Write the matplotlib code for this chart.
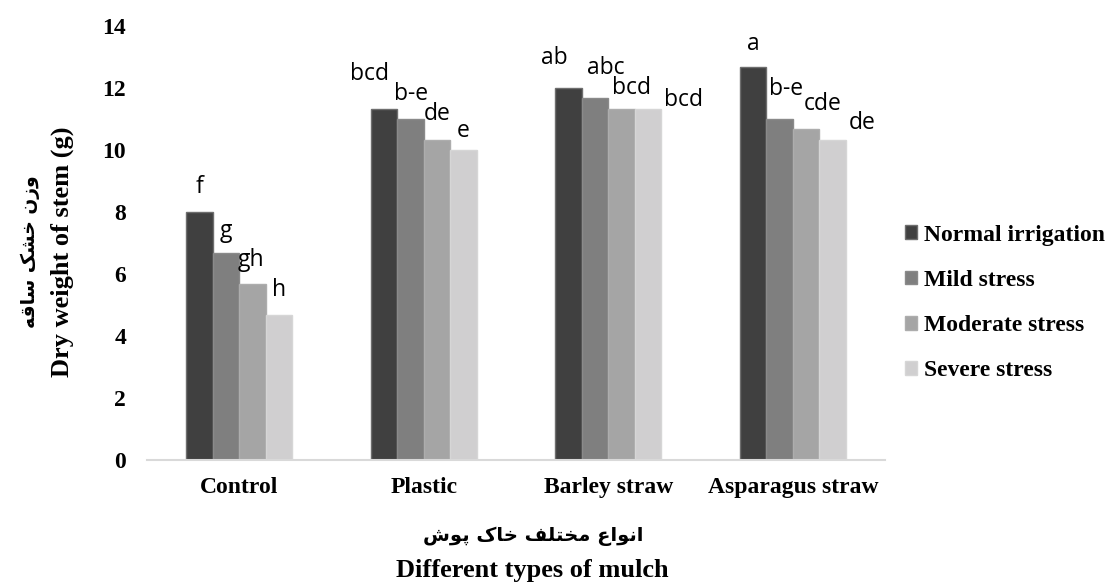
import matplotlib
matplotlib.use("Agg")
import matplotlib.pyplot as plt
import numpy as np

# ---------------- data ----------------
categories = ["Control", "Plastic", "Barley straw", "Asparagus straw"]
series_names = ["Normal irrigation", "Mild stress", "Moderate stress", "Severe stress"]
normal = [8.0, 11.33, 12.0, 12.67]
mild = [6.67, 11.0, 11.67, 11.0]
moderate = [5.67, 10.33, 11.33, 10.67]
severe = [4.67, 10.0, 11.33, 10.33]
letters_normal = ["f", "bcd", "ab", "a"]
letters_mild = ["g", "b-e", "abc", "b-e"]
letters_moderate = ["gh", "de", "bcd", "cde"]
letters_severe = ["h", "e", "bcd", "de"]
yticks = [0, 2, 4, 6, 8, 10, 12, 14]

# label placement (layout only): offsets in pixels from bar centre, and in data units above bar top
label_dx_px = [[0, -14, -14, 0], [0, 1, 11, 7], [-2, 0, 10, 17], [0, 0, 35, 30]]
label_dy = [[0.82, 1.11, 0.96, 0.75], [0.72, 0.8, 0.97, 0.96],
            [0.79, 0.82, 0.66, 0.8], [0.82, 0.6, 0.27, 0.53]]

colors = ["#404040", "#7f7f7f", "#a5a5a5", "#d0cfd0"]
edges = ["#6e6e6e", "#8a8a8a", "#adadad", "#d6d6d6"]

W, H = 1107, 583
fig = plt.figure(figsize=(W / 100, H / 100), dpi=100)
ax = fig.add_axes([147 / W, 1 - 460 / H, (885 - 147) / W, (460 - 26) / H])

serif = ["Liberation Serif", "DejaVu Serif"]
values = [normal, mild, moderate, severe]
letters = [letters_normal, letters_mild, letters_moderate, letters_severe]
x = np.arange(len(categories))
bw = 26.5 / 184.5
px_per_unit = 184.5

for i, (vals, name) in enumerate(zip(values, series_names)):
    pos = x + (i - 1.5) * bw
    ax.bar(pos, vals, width=bw, color=colors[i], edgecolor=edges[i], linewidth=1.0,
           label=name, zorder=2)
    for j, (p, v) in enumerate(zip(pos, vals)):
        ax.text(p + label_dx_px[i][j] / px_per_unit, v + label_dy[i][j], letters[i][j],
                ha="center", va="center", fontsize=16.5, family=["Open Sans", "DejaVu Sans"],
                color="#000000")

ax.set_xlim(-0.5, 3.5)
ax.set_ylim(0, 14)
ax.set_yticks(yticks)
ax.set_yticklabels([str(t) for t in yticks], fontsize=17, fontweight="bold", family=serif)
ax.set_xticks(x)
ax.set_xticklabels(categories, fontsize=17, fontweight="bold", family=serif)
ax.tick_params(axis="both", length=0)
ax.tick_params(axis="y", pad=15)
ax.tick_params(axis="x", pad=12)
for s in ["top", "right", "left"]:
    ax.spines[s].set_visible(False)
ax.spines["bottom"].set_color("#d9d9d9")
ax.spines["bottom"].set_linewidth(1.5)

# Persian text in presentation forms (visual order)
fa_y = "\uFEEA\uFED7\uFE8E\uFEB3 \uFB8F\uFEB8\uFEA7 \uFEE5\uFEAF\uFEED"
fa_x = ("\uFEB5\uFEEE\uFB58 \uFB8E\uFE8E\uFEA7 \uFED2\uFEE0\uFE98\uFEA8\uFEE3 "
        "\uFEC9\uFE8D\uFEEE\uFEE7\uFE8D")

fig.text(30 / W, 1 - 252 / H, fa_y, rotation=90, ha="center", va="center",
         fontsize=13.5, fontweight="bold", family=["DejaVu Sans"])
fig.text(62 / W, 1 - 252 / H, "Dry weight of stem (g)", rotation=90, ha="center", va="center",
         fontsize=19, fontweight="bold", family=serif)
fig.text(533 / W, 1 - 536 / H, fa_x, ha="center", va="center",
         fontsize=14, fontweight="bold", family=["DejaVu Sans"])
fig.text(532 / W, 1 - 571 / H, "Different types of mulch", ha="center", va="center",
         fontsize=19, fontweight="bold", family=serif)

leg = fig.legend(loc="center left", bbox_to_anchor=(905 / W, 1 - 303 / H),
                 frameon=False, borderpad=0, borderaxespad=0,
                 handlelength=0.5, handleheight=0.5, handletextpad=0.3,
                 labelspacing=1.03,
                 prop={"family": serif, "weight": "bold", "size": 17})

fig.savefig("out.png", dpi=100, facecolor="white")
